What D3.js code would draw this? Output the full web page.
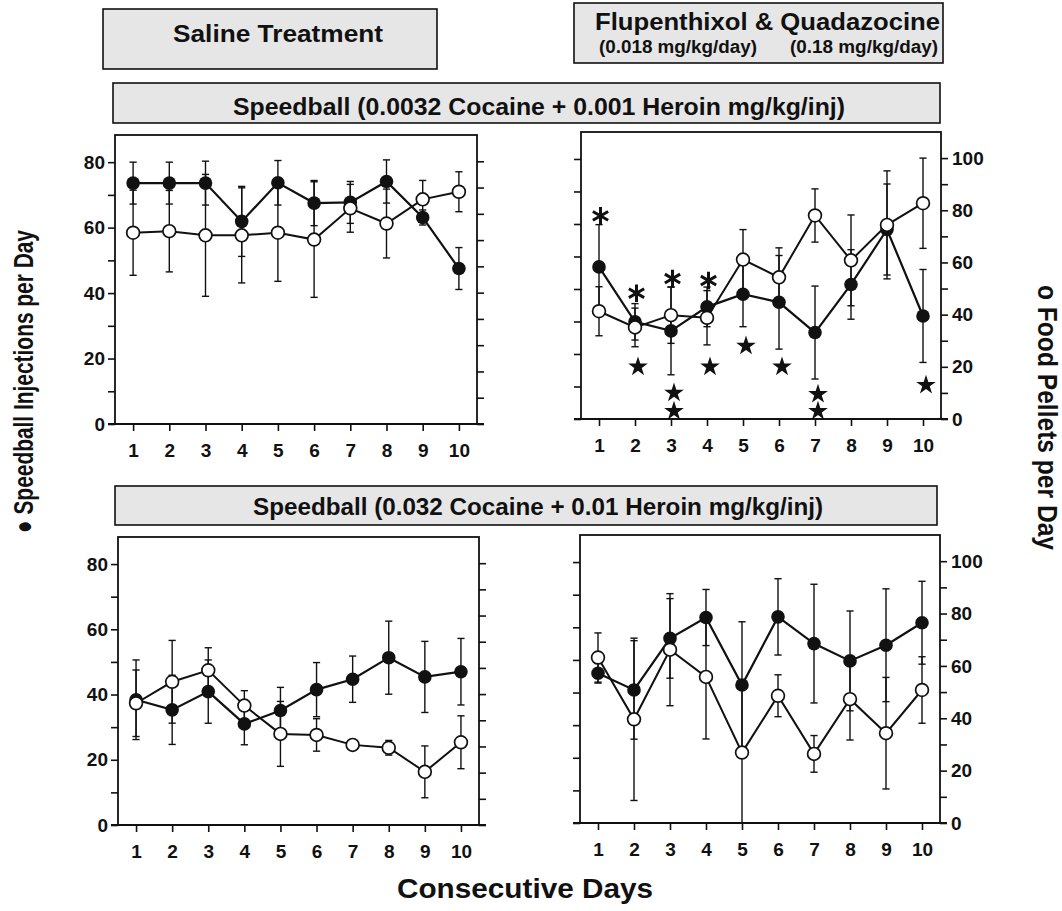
<!DOCTYPE html>
<html><head><meta charset="utf-8">
<script src="https://cdn.jsdelivr.net/npm/d3@7"></script>
<style>body{margin:0;background:#fff} svg{display:block}</style>
</head><body><svg id="chart" width="1062" height="911"></svg>
<script>
// ---------- data ----------
const days = [1,2,3,4,5,6,7,8,9,10];
const injTicks = [0,10,20,30,40,50,60,70,80];
const injLabels = [0,20,40,60,80];
const foodTicks = [0,10,20,30,40,50,60,70,80,90,100];
const foodLabels = [0,20,40,60,80,100];

// Saline, low-dose speedball (top-left)
const salineLowInj     = [73.6,73.6,73.6,61.9,73.7,67.5,67.7,74.1,63.1,47.5];
const salineLowInjErr  = [6.4,6.4,6.7,10.7,6.8,6.9,6.4,6.6,2.3,6.4];
const salineLowFood    = [72.8,73.4,71.8,71.8,72.8,70.2,82.1,76.3,85.5,88.4];
const salineLowFoodErr = [16.2,15.5,23.2,18.1,18.5,22.0,9.1,13.1,7.2,7.6];

// Flupenthixol & Quadazocine, low-dose speedball (top-right)
const drugLowInj     = [46.8,29.9,27.1,34.5,38.4,35.9,26.6,41.4,58.3,31.7];
const drugLowInjErr  = [13.0,5.6,13.5,6.1,10.0,14.4,14.3,10.7,14.0,14.3];
const drugLowFood    = [41.3,35.1,39.8,38.8,61.1,54.3,78.0,60.8,74.4,82.7];
const drugLowFoodErr = [9.4,7.4,10.8,10.4,11.5,11.3,10.2,17.4,20.7,17.3];

// Saline, high-dose speedball (bottom-left)
const salineHighInj     = [38.4,35.3,40.9,31.0,35.1,41.5,44.7,51.3,45.4,47.0];
const salineHighInjErr  = [12.2,10.6,9.7,6.4,7.1,8.3,7.1,11.2,10.9,10.2];
const salineHighFood    = [46.5,54.7,59.1,45.6,34.8,34.4,30.6,29.5,20.3,31.6];
const salineHighFoodErr = [12.7,15.8,8.6,5.7,12.4,6.2,1.5,2.8,9.9,10.1];

// Flupenthixol & Quadazocine, high-dose speedball (bottom-right)
const drugHighInj     = [45.9,40.8,56.6,63.0,42.3,63.2,55.0,49.7,54.5,61.4];
const drugHighInjErr  = [3.0,15.1,12.2,8.6,19.4,11.7,18.2,15.3,17.3,12.7];
const drugHighFood    = [63.2,39.6,66.2,55.8,26.9,48.6,26.4,47.3,34.3,50.8];
const drugHighFoodErr = [9.4,31.0,21.4,23.7,26.9,8.0,7.0,15.6,21.3,12.7];

// significance markers (top-right panel)
const asteriskDays = [1,2,3,4];
const asteriskInj  = [62.5,38.7,43.2,42.6];
const starDays = [2,3,3,4,5,6,7,7,10];
const starFood = [20,10,3,20,28,20,9.5,3,13];

// texts
const titleSaline = "Saline Treatment";
const titleDrug = "Flupenthixol & Quadazocine";
const doseFlu = "(0.018 mg/kg/day)";
const doseQuad = "(0.18 mg/kg/day)";
const titleLow = "Speedball (0.0032 Cocaine + 0.001 Heroin mg/kg/inj)";
const titleHigh = "Speedball (0.032 Cocaine + 0.01 Heroin mg/kg/inj)";
const yLeftTitle = "\u25CF Speedball Injections per Day";
const yRightTitle = "o Food Pellets per Day";
const xTitle = "Consecutive Days";

// ---------- layout ----------
const FONT = "'Liberation Sans', Arial, Helvetica, sans-serif";
const INJ_MAX = 88.3, FOOD_MAX = 110;
const svg = d3.select("#chart").attr("font-family", FONT);

const panels = [
  {inj: salineLowInj, injErr: salineLowInjErr, food: salineLowFood, foodErr: salineLowFoodErr,
   f: {l:115, r:477, t:135, b:424}, side: "left"},
  {inj: drugLowInj, injErr: drugLowInjErr, food: drugLowFood, foodErr: drugLowFoodErr,
   f: {l:581, r:941, t:132, b:419}, side: "right", marks: true},
  {inj: salineHighInj, injErr: salineHighInjErr, food: salineHighFood, foodErr: salineHighFoodErr,
   f: {l:118, r:479, t:537, b:825}, side: "left"},
  {inj: drugHighInj, injErr: drugHighInjErr, food: drugHighFood, foodErr: drugHighFoodErr,
   f: {l:580, r:940, t:535, b:823}, side: "right"}
];

// header boxes
function box(x, y, w, h) {
  svg.append("rect").attr("x", x).attr("y", y).attr("width", w).attr("height", h)
    .attr("fill", "#e6e6e6").attr("stroke", "#111").attr("stroke-width", 1.6);
}
function label(txt, x, y, size, len, anchor) {
  const t = svg.append("text").attr("x", x).attr("y", y).attr("font-size", size)
    .attr("font-weight", "bold").attr("fill", "#111").attr("text-anchor", anchor || "middle").text(txt);
  if (len) t.attr("textLength", len).attr("lengthAdjust", "spacingAndGlyphs");
  return t;
}
box(103, 9, 334, 60);
label(titleSaline, 278, 42, 24, 210);
box(574, 3, 369, 60);
label(titleDrug, 767.5, 30, 24, 345);
label(doseFlu, 678, 53, 18, 158);
label(doseQuad, 864, 53, 18, 148);
box(113, 83, 827, 40);
label(titleLow, 539, 115, 24, 612);
box(115, 486, 822, 39);
label(titleHigh, 538, 515, 24, 570);

// axis titles
svg.append("text").attr("transform", "translate(33,381.5) rotate(-90)")
  .attr("text-anchor", "middle").attr("font-size", 28).attr("font-weight", "bold").attr("fill", "#111")
  .attr("textLength", 303).attr("lengthAdjust", "spacingAndGlyphs").text(yLeftTitle);
svg.append("text").attr("transform", "translate(1038,417.5) rotate(90)")
  .attr("text-anchor", "middle").attr("font-size", 28).attr("font-weight", "bold").attr("fill", "#111")
  .attr("textLength", 265).attr("lengthAdjust", "spacingAndGlyphs").text(yRightTitle);
label(xTitle, 525, 898, 27, 256);

// panels
panels.forEach(p => {
  const f = p.f;
  const x = d3.scaleLinear().domain([0.5, 10.5]).range([f.l, f.r]);
  const yI = d3.scaleLinear().domain([0, INJ_MAX]).range([f.b, f.t]);
  const yF = d3.scaleLinear().domain([0, FOOD_MAX]).range([f.b, f.t]);
  const g = svg.append("g");

  // frame
  g.append("rect").attr("x", f.l).attr("y", f.t).attr("width", f.r - f.l).attr("height", f.b - f.t)
    .attr("fill", "none").attr("stroke", "#111").attr("stroke-width", 1.8);
  g.append("line").attr("x1", f.l - 7).attr("x2", f.r + 7).attr("y1", f.b).attr("y2", f.b)
    .attr("stroke", "#111").attr("stroke-width", 2.2);

  // axes
  const styleAxis = sel => {
    sel.attr("font-size", null).attr("font-family", null);
    sel.select(".domain").remove();
    sel.selectAll(".tick line").attr("stroke", "#111").attr("stroke-width", 1.6);
    sel.selectAll(".tick text").style("font-size", "19px").style("font-weight", "bold")
      .attr("fill", "#111").style("font-family", FONT);
  };
  g.append("g").attr("transform", `translate(0,${f.b})`)
    .call(d3.axisBottom(x).tickValues(days).tickSize(7).tickPadding(13).tickFormat(d3.format("d")))
    .call(styleAxis);
  const leftAxis = d3.axisLeft(yI).tickValues(injTicks).tickSize(7).tickPadding(3)
    .tickFormat(d => p.side === "left" && injLabels.includes(d) ? d : "");
  g.append("g").attr("transform", `translate(${f.l},0)`).call(leftAxis).call(styleAxis);
  const rightAxis = d3.axisRight(yF).tickValues(foodTicks).tickSize(7).tickPadding(4)
    .tickFormat(d => p.side === "right" && foodLabels.includes(d) ? d : "");
  g.append("g").attr("transform", `translate(${f.r},0)`).call(rightAxis).call(styleAxis);

  // error bars
  const cap = 3.6;
  function errBars(vals, errs, y) {
    const eg = g.append("g").attr("stroke", "#111").attr("stroke-width", 1.4);
    days.forEach((d, i) => {
      const lo = Math.max(0, vals[i] - errs[i]), hi = vals[i] + errs[i];
      eg.append("line").attr("x1", x(d)).attr("x2", x(d)).attr("y1", y(lo)).attr("y2", y(hi));
      eg.append("line").attr("x1", x(d) - cap).attr("x2", x(d) + cap).attr("y1", y(hi)).attr("y2", y(hi));
      if (vals[i] - errs[i] > 0.5)
        eg.append("line").attr("x1", x(d) - cap).attr("x2", x(d) + cap).attr("y1", y(lo)).attr("y2", y(lo));
    });
  }
  errBars(p.inj, p.injErr, yI);
  errBars(p.food, p.foodErr, yF);

  // lines
  g.append("path").datum(p.inj).attr("fill", "none").attr("stroke", "#111").attr("stroke-width", 2.2)
    .attr("d", d3.line().x((v, i) => x(days[i])).y(v => yI(v)));
  g.append("path").datum(p.food).attr("fill", "none").attr("stroke", "#111").attr("stroke-width", 2)
    .attr("d", d3.line().x((v, i) => x(days[i])).y(v => yF(v)));

  // points
  g.selectAll(".inj").data(p.inj).join("circle").attr("class", "inj")
    .attr("cx", (v, i) => x(days[i])).attr("cy", v => yI(v)).attr("r", 6.8).attr("fill", "#111");
  g.selectAll(".food").data(p.food).join("circle").attr("class", "food")
    .attr("cx", (v, i) => x(days[i])).attr("cy", v => yF(v)).attr("r", 6.4)
    .attr("fill", "#fff").attr("stroke", "#111").attr("stroke-width", 1.7);

  // significance markers
  if (p.marks) {
    const ast = d3.symbol().type(d3.symbolAsterisk).size(220);
    g.selectAll(".ast").data(asteriskDays).join("path").attr("class", "ast")
      .attr("transform", (d, i) => `translate(${x(d) + 1.5},${yI(asteriskInj[i])})`)
      .attr("d", ast).attr("stroke", "#111").attr("stroke-width", 3).attr("fill", "none");
    const star = d3.symbol().type(d3.symbolStar).size(120);
    g.selectAll(".star").data(starDays).join("path").attr("class", "star")
      .attr("transform", (d, i) => `translate(${x(d) + 3},${yF(starFood[i])})`)
      .attr("d", star).attr("fill", "#111");
  }
});
</script></body></html>
